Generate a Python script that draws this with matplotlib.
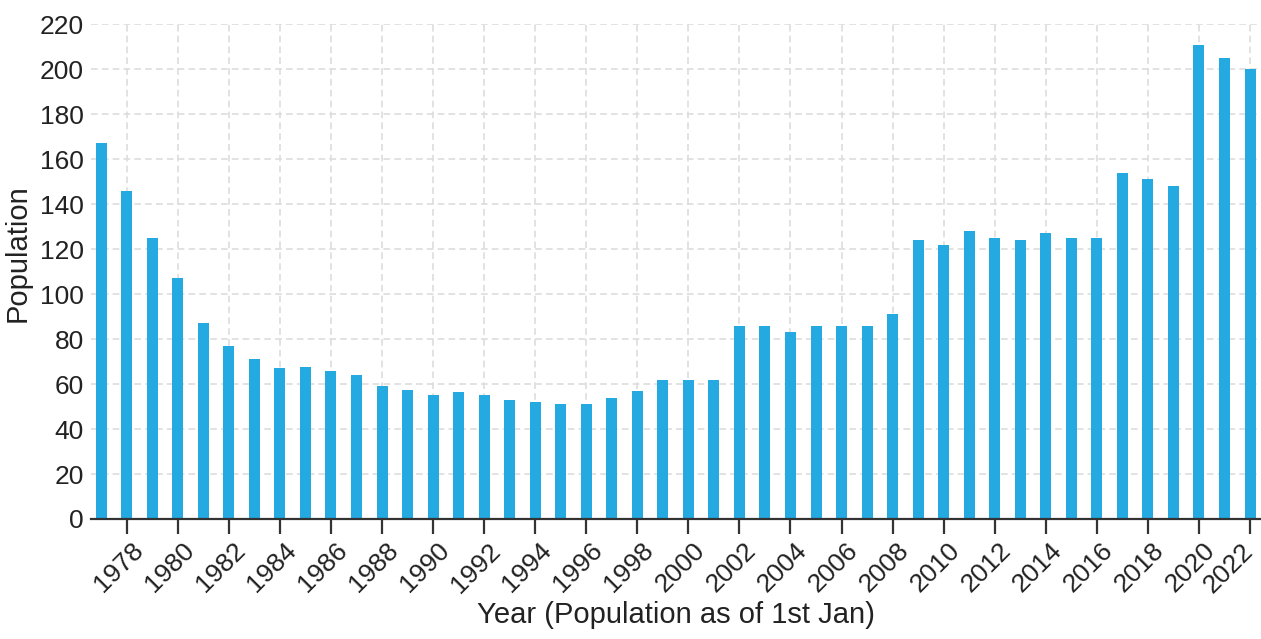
import matplotlib
matplotlib.use("Agg")
import matplotlib.pyplot as plt
import matplotlib.transforms as mtransforms

years = list(range(1977, 2023))
population = [167, 146, 125, 107, 87, 77, 71, 67, 67.5, 66, 64, 59,
              57.5, 55, 56.5, 55, 53, 52, 51, 51, 54, 57, 62, 62, 62,
              86, 86, 83, 86, 86, 86, 91, 124, 122, 128, 125, 124, 127,
              125, 125, 154, 151, 148, 211, 205, 200]
tick_years = list(range(1978, 2023, 2))
yticks = list(range(0, 221, 20))

plt.rcParams['font.family'] = ['Liberation Sans', 'DejaVu Sans']

W, H = 1261, 639
fig = plt.figure(figsize=(W / 100, H / 100), dpi=100)
ax = fig.add_axes([91 / W, 1 - 519 / H, 1 - 91 / W, (519 - 24.3) / H])

ax.bar(years, population, width=0.43, color='#24a9e1', zorder=3)

ax.set_xlim(1976.6, 2022.43)
ax.set_ylim(0, 220)
ax.set_xticks(tick_years)
ax.set_xticklabels([str(y) for y in tick_years], rotation=45, ha='right',
                   va='top', rotation_mode='anchor', fontsize=19,
                   color='#222222')
ax.set_yticks(yticks)
ax.set_yticklabels([str(v) for v in yticks], fontsize=19, color='#222222')

ax.grid(True, color='#dddddd', linestyle=(0, (4, 2.5)), linewidth=1.2, zorder=0)
ax.set_axisbelow(True)

for s in ['top', 'right', 'left']:
    ax.spines[s].set_visible(False)
ax.spines['bottom'].set_color('#333333')
ax.spines['bottom'].set_linewidth(1.6)
ax.spines['bottom'].set_zorder(4)

ax.tick_params(axis='x', length=11, width=1.6, color='#333333', pad=3)
ax.tick_params(axis='y', length=0, pad=5)

labels = ax.get_xticklabels()
for i, lab in enumerate(labels):
    dx = -9 if i == len(labels) - 1 else 4
    lab.set_transform(lab.get_transform() +
                      mtransforms.ScaledTranslation(dx / 100, 0, fig.dpi_scale_trans))

ax.set_xlabel('Year (Population as of 1st Jan)', fontsize=21, color='#222222', labelpad=3)
ax.set_ylabel('Population', fontsize=21, color='#222222')
ax.yaxis.set_label_coords(-0.0504, 0.538)

fig.savefig('out.png', dpi=100)
